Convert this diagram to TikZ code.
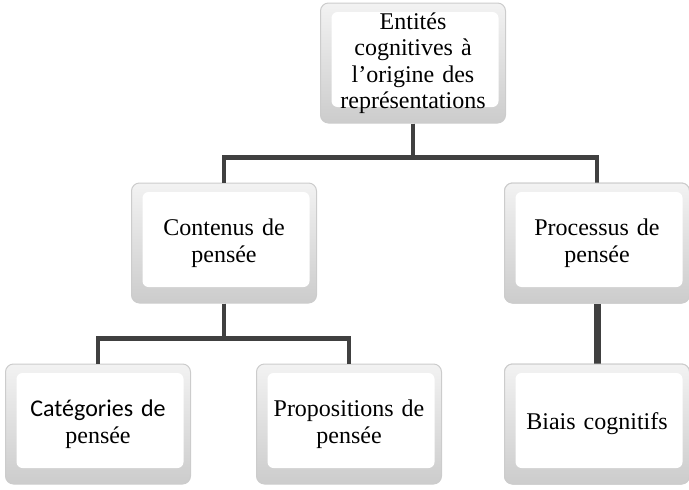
\documentclass[tikz,border=0pt]{standalone}
\usepackage{fontspec}
\setmainfont{Liberation Serif}[Ligatures=ResetAll]
\newfontfamily\calib{Carlito}
\tikzset{
  bevel/.style={draw=gray!40, line width=1pt, rounded corners=8pt,
    top color=gray!10, bottom color=gray!40,
    minimum width=185pt, minimum height=120pt, inner sep=0pt,
    text width=178pt, align=center,
    font=\fontsize{24}{26.5}\selectfont,
    path picture={
      \fill[white, rounded corners=6pt]
        ([shift={(11pt,-9pt)}]path picture bounding box.north west)
        rectangle ([shift={(-7pt,16pt)}]path picture bounding box.south east);
    }},
  link/.style={draw=black!75, line width=4.5pt},
  thick link/.style={draw=black!75, line width=7pt}
}
\begin{document}
\begin{tikzpicture}[x=1pt, y=-1pt]
	\useasboundingbox (0,0) rectangle (689,490);
	\path node[bevel] (root) at (413,63) {Entités\\cognitives à\\l'origine des\\représentations};
	\path node[bevel] (cont) at (224,243) {Contenus de\\pensée};
	\path node[bevel] (proc) at (597,243) {Processus de\\pensée};
	\path node[bevel] (cat) at (98,424) {{\calib Catégories de}\\pensée};
	\path node[bevel] (prop) at (349,424) {Propositions de\\pensée};
	\path node[bevel] (biais) at (597,424) {Biais cognitifs};
	% connectors
	\draw[link] (root.south) -- ++(0,34) -| (cont.north);
	\draw[link] (root.south) -- ++(0,34) -| (proc.north);
	\draw[link] (cont.south) -- ++(0,35) -| (cat.north);
	\draw[link] (cont.south) -- ++(0,35) -| (prop.north);
	\draw[thick link] (proc) -- (biais);
	% redraw boxes over the lines
	\path node[bevel] at (proc) {Processus de\\pensée};
	\path node[bevel] at (biais) {Biais cognitifs};
\end{tikzpicture}
\end{document}
